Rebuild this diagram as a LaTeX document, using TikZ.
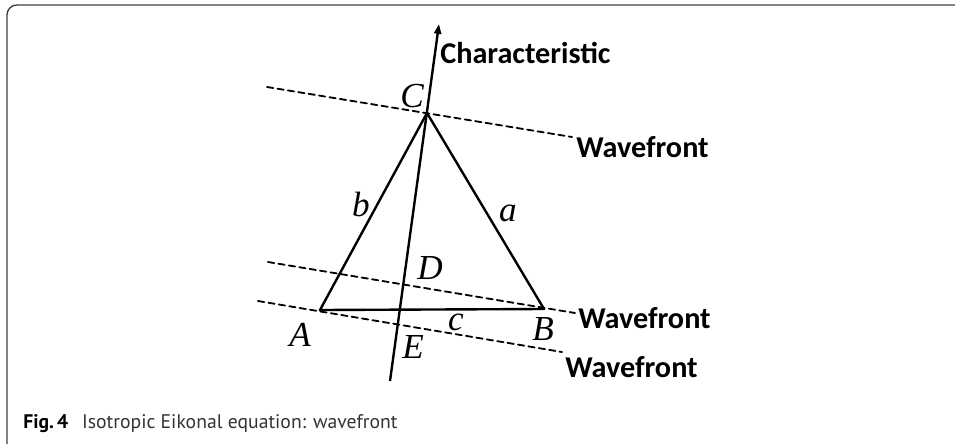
\documentclass[tikz,border=0pt]{standalone}
\usepackage{fontspec}
\setmainfont{Liberation Serif}
\newfontfamily\lblfont{Carlito}
\newfontfamily\capfont{PT Sans}
\usepackage{tkz-euclide}
\usetikzlibrary{arrows.meta}
\definecolor{FrameClr}{rgb}{0.25,0.25,0.25}
\definecolor{CapClr}{rgb}{0.2,0.2,0.2}

\begin{document}
\begin{tikzpicture}[scale=.5,
  ptlabel/.style={font=\fontsize{25}{26}\selectfont\itshape,anchor=base,inner sep=0pt},
  wavelabel/.style={font=\lblfont\bfseries\fontsize{21.5}{22}\selectfont,anchor=base west,inner sep=0pt},
  wave/.style={line width=1.3pt,color=black,dash pattern=on 4.5pt off 3pt}]
\tkzSetUpLine[line width=1.7pt,color=black]

\useasboundingbox (0,0) rectangle (47.75,22.2);
\draw[FrameClr,line width=1pt,rounded corners=7pt] (47.75,21.95) -- (0.35,21.95) -- (0.35,0);

\tkzDefPoint(16,6.7){A}
\tkzDefPoint(27.2,6.75){B}
\tkzDefPoint(21.35,16.55){C}
\tkzDefPoint(19.5,3.15){K1}
\tkzDefPoint(21.95,21.0){K2}

% wavefronts
\tkzDefPoint(13.35,17.85){W1} \tkzDefPoint(28.6,15.35){W2}
\tkzDefPoint(13.4,9.1){W3}    \tkzDefPoint(28.75,6.55){W4}
\tkzDefPoint(12.9,7.15){W5}   \tkzDefPoint(28.1,4.6){W6}
\tkzDrawSegments[wave](W1,W2 W3,W4 W5,W6)

\tkzDrawPolygon(A,B,C)
\draw[line width=1.7pt,-{Triangle[length=7pt,width=5pt]}] (K1) -- (K2);

\node[ptlabel] (lC) at (20.6,16.85) {C};
\node[ptlabel] (lD) at (21.5,8.25) {D};
\node[ptlabel] (lE) at (20.65,4.3) {E};
\node[ptlabel] (lA) at (15.0,4.9) {A};
\node[ptlabel] (lB) at (27.15,5.2) {B};
\node[ptlabel] (la) at (25.4,11.15) {a};
\node[ptlabel] (lb) at (18.05,11.4) {b};
\node[ptlabel] (lc) at (22.8,5.7) {c};

\node[wavelabel] (char) at (22.0,19.05) {Characteristic};
\node[wavelabel] (wf1) at (28.8,14.35) {Wavefront};
\node[wavelabel] (wf2) at (28.9,5.8) {Wavefront};
\node[wavelabel] (wf3) at (28.25,3.35) {Wavefront};

\node[anchor=base west,inner sep=0pt,text=CapClr,font=\capfont\fontsize{14}{15}\selectfont] (cap) at (1.15,0.8)
  {\textbf{\color{black}Fig.\,4}\hspace{0.7em}Isotropic Eikonal equation: wavefront};
\end{tikzpicture}
\end{document}
